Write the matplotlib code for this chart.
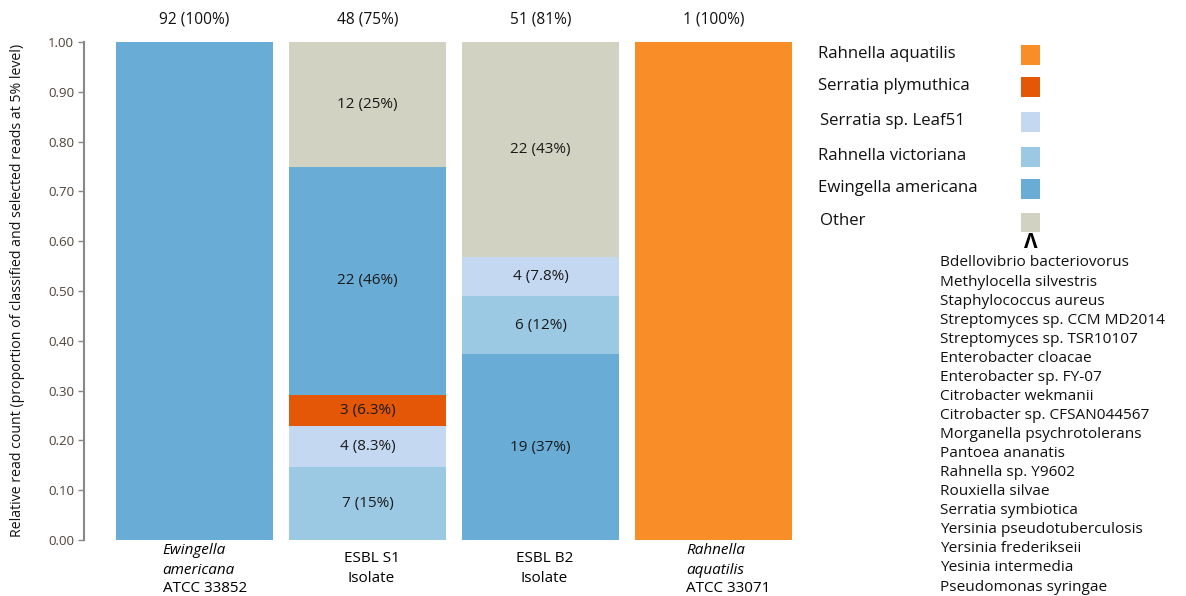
import matplotlib
matplotlib.use("Agg")
import matplotlib.pyplot as plt
import numpy as np
from matplotlib.patches import Rectangle

plt.rcParams['font.family'] = ['Open Sans', 'DejaVu Sans']

# Samples (x axis)
samples = ["Ewingella americana ATCC 33852", "ESBL S1 Isolate", "ESBL B2 Isolate",
           "Rahnella aquatilis ATCC 33071"]
sample_totals = ["92 (100%)", "48 (75%)", "51 (81%)", "1 (100%)"]

# Taxa shown in the legend
taxa = ["Rahnella aquatilis", "Serratia plymuthica", "Serratia sp. Leaf51",
        "Rahnella victoriana", "Ewingella americana", "Other"]

# Stack order (bottom to top) for each sample
stack_order = {
    0: ["Ewingella americana"],
    1: ["Rahnella victoriana", "Serratia sp. Leaf51", "Serratia plymuthica",
        "Ewingella americana", "Other"],
    2: ["Ewingella americana", "Rahnella victoriana", "Serratia sp. Leaf51", "Other"],
    3: ["Rahnella aquatilis"],
}
# Read counts per taxon for each sample
counts = {
    0: {"Ewingella americana": 92},
    1: {"Rahnella victoriana": 7, "Serratia sp. Leaf51": 4, "Serratia plymuthica": 3,
        "Ewingella americana": 22, "Other": 12},
    2: {"Ewingella americana": 19, "Rahnella victoriana": 6, "Serratia sp. Leaf51": 4,
        "Other": 22},
    3: {"Rahnella aquatilis": 1},
}
segment_labels = {
    1: {"Rahnella victoriana": "7 (15%)", "Serratia sp. Leaf51": "4 (8.3%)",
        "Serratia plymuthica": "3 (6.3%)", "Ewingella americana": "22 (46%)",
        "Other": "12 (25%)"},
    2: {"Ewingella americana": "19 (37%)", "Rahnella victoriana": "6 (12%)",
        "Serratia sp. Leaf51": "4 (7.8%)", "Other": "22 (43%)"},
}

colors = {
    "Rahnella aquatilis": "#f98d27",
    "Serratia plymuthica": "#e35706",
    "Serratia sp. Leaf51": "#c4d8f1",
    "Rahnella victoriana": "#9bc9e4",
    "Ewingella americana": "#69acd6",
    "Other": "#d2d2c3",
}

other_species = [
    "Bdellovibrio bacteriovorus", "Methylocella silvestris", "Staphylococcus aureus",
    "Streptomyces sp. CCM MD2014", "Streptomyces sp. TSR10107", "Enterobacter cloacae",
    "Enterobacter sp. FY-07", "Citrobacter wekmanii", "Citrobacter sp. CFSAN044567",
    "Morganella psychrotolerans", "Pantoea ananatis", "Rahnella sp. Y9602",
    "Rouxiella silvae", "Serratia symbiotica", "Yersinia pseudotuberculosis",
    "Yersinia frederikseii", "Yesinia intermedia", "Pseudomonas syringae",
]

W, H = 1186, 596
fig = plt.figure(figsize=(W / 100, H / 100), dpi=100)
ax = fig.add_axes([84 / W, 56 / H, 740 / W, 498 / H])

bar_w = 0.907
for i in range(len(samples)):
    total = sum(counts[i].values())
    bottom = 0.0
    for taxon in stack_order[i]:
        frac = counts[i][taxon] / total
        ax.bar(i, frac, bottom=bottom, width=bar_w, color=colors[taxon],
               edgecolor='none', linewidth=0)
        if i in segment_labels:
            ax.text(i, bottom + frac / 2, segment_labels[i][taxon], ha='center',
                    va='center', fontsize=11, color='#1a1a1a')
        bottom += frac
    ax.text(i, 1.045, sample_totals[i], ha='center', va='center', fontsize=11.2,
            color='#111111')

ax.set_xlim(-0.639, 3.639)
ax.set_ylim(0, 1.0)
ticks = np.arange(0, 1.01, 0.1)
ax.set_yticks(ticks)
ax.set_yticklabels([f"{v:.2f}" for v in ticks])
ax.tick_params(axis='y', length=4, width=1, color='#888888', pad=3,
               labelsize=9.5, labelcolor='#4e4238')
ax.set_xticks([])
for s in ['top', 'right', 'bottom']:
    ax.spines[s].set_visible(False)
ax.spines['left'].set_color('#888888')
ax.spines['left'].set_linewidth(1.5)

fig.text(18 / W, 1 - 290 / H,
         "Relative read count (proportion of classified and selected reads at 5% level)",
         rotation=90, ha='center', va='center', fontsize=10.2, color='#111111')


def fx(px):
    return px / W


def fy(py):
    return 1 - py / H


def data_x(xd):
    return ax.transData.transform((xd, 0))[0] / W


fig.canvas.draw()
# Sample names under the bars
x0 = data_x(0) - 32 / W
fig.text(x0, fy(551), "Ewingella", style='italic', fontsize=11, ha='left', va='center')
fig.text(x0, fy(570), "americana", style='italic', fontsize=11, ha='left', va='center')
fig.text(x0, fy(589), "ATCC 33852", fontsize=11, ha='left', va='center')
for i, name in [(1, "ESBL S1"), (2, "ESBL B2")]:
    xc = data_x(i) + 4 / W
    fig.text(xc, fy(558), name, fontsize=11, ha='center', va='center')
    fig.text(xc, fy(578), "Isolate", fontsize=11, ha='center', va='center')
x3 = data_x(3) - 27 / W
fig.text(x3, fy(551), "Rahnella", style='italic', fontsize=11, ha='left', va='center')
fig.text(x3, fy(570), "aquatilis", style='italic', fontsize=11, ha='left', va='center')
fig.text(x3, fy(589), "ATCC 33071", fontsize=11, ha='left', va='center')

# Legend
legend_y = [54, 86, 121, 156, 188, 221]
text_x = [818, 818, 820, 818, 818, 820]
for taxon, py, tx in zip(taxa, legend_y, text_x):
    fig.text(fx(tx), fy(py), taxon, fontsize=12.1, ha='left', va='center',
             color='#111111')
    fig.patches.append(Rectangle((fx(1021), fy(py + 1) - 9.5 / H), 19 / W, 19 / H,
                                 transform=fig.transFigure, facecolor=colors[taxon],
                                 edgecolor='none'))

fig.text(fx(1031), fy(243), "Λ", fontsize=15, fontweight='bold', ha='center',
         va='center', color='#000000')

# Species grouped under "Other"
for k, sp in enumerate(other_species):
    fig.text(fx(940), fy(263 + k * 19.06), sp, fontsize=11.1, ha='left', va='center',
             color='#111111')

fig.savefig("out.png", dpi=100, facecolor='white')
